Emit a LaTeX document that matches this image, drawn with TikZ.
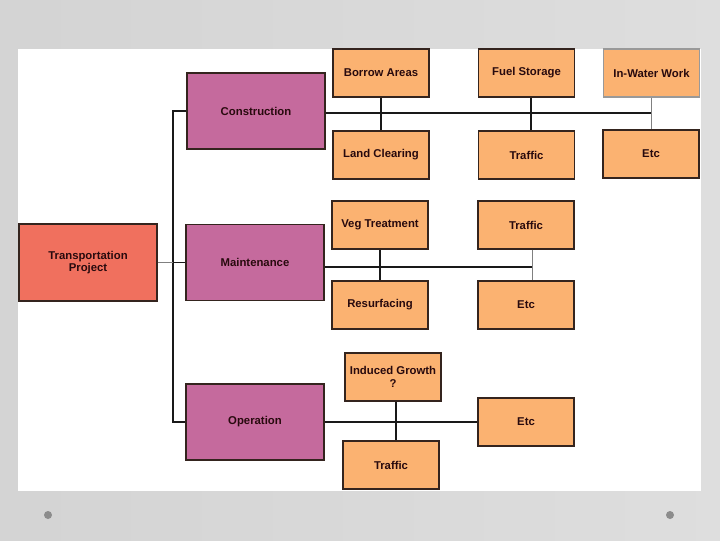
\documentclass[tikz,border=0pt]{standalone}
\usepackage{fontspec}
\setmainfont{Liberation Sans}
\usepackage{xcolor}
\usetikzlibrary{calc}

\definecolor{projred}{RGB}{240,112,94}
\definecolor{phasepurple}{RGB}{197,106,157}
\definecolor{taskorange}{RGB}{251,178,113}
\definecolor{boxline}{RGB}{52,36,30}
\definecolor{labeltext}{RGB}{40,10,14}

\begin{document}
\begin{tikzpicture}[
  x=0.75pt,y=-0.75pt,
  font=\bfseries\fontsize{8.5}{9.5}\selectfont,
  project/.style={draw=boxline,fill=projred,align=center,text=labeltext,
    minimum width=103.5pt,minimum height=57.75pt,inner sep=2pt,line width=0.9pt},
  phase/.style={draw=boxline,fill=phasepurple,align=center,text=labeltext,
    minimum width=103.5pt,minimum height=57pt,inner sep=2pt,line width=0.9pt},
  task/.style={draw=boxline,fill=taskorange,align=center,text=labeltext,
    minimum width=72pt,minimum height=36pt,inner sep=2pt,line width=0.9pt},
  link/.style={draw=black!90,line width=0.8pt},
  softlink/.style={draw=black!50,line width=0.65pt}
]
% slide background
\shade[left color=black!17,middle color=black!4,right color=black!13] (0,0) rectangle (720,540);
\fill[white] (18,49) rectangle (701,491);
\fill[black!45] (48,515) circle (4);
\fill[black!45] (670,515) circle (4);

% project and phases
\node[project] (proj) at (88,262.5) {Transportation\\Project};
\node[phase] (constr) at (256,111) {Construction};
\node[phase] (maint) at (255,262.5) {Maintenance};
\node[phase] (oper) at (255,422) {Operation};

% construction tasks
\node[task] (borrow) at (381,73) {Borrow Areas};
\node[task] (fuel) at (526.5,73) {Fuel Storage};
\node[task,draw=black!40] (inwater) at (651.5,73) {In-Water Work};
\node[task] (landclr) at (381,155) {Land Clearing};
\node[task] (trafconstr) at (526.5,155) {Traffic};
\node[task] (etcconstr) at (651,154) {Etc};

% maintenance tasks
\node[task] (veg) at (380,225) {Veg Treatment};
\node[task] (trafmaint) at (526,225) {Traffic};
\node[task] (resurf) at (380,305) {Resurfacing};
\node[task] (etcmaint) at (526,305) {Etc};

% operation tasks
\node[task] (induced) at (393,377) {Induced Growth\\?};
\node[task] (etcoper) at (526,422) {Etc};
\node[task] (trafoper) at (391,465) {Traffic};

% trunk
\coordinate (trunktop) at (173,111);
\coordinate (trunkbot) at (173,422);
\draw[link] (constr.west) -- (trunktop) -- (trunkbot) -- (oper.west);
\draw[link] (maint.west) -- (maint.west -| trunktop);
\draw[softlink] (proj.east) -- (proj.east -| trunktop);

% construction branch
\draw[link] ($(constr.east)+(0,2)$) -- ($(constr.east -| inwater.south)+(0,2)$);
\draw[link] (borrow) -- (landclr);
\draw[link] ($(fuel.south)+(4.5,0)$) -- ($(trafconstr.north)+(4.5,0)$);
\draw[softlink] (inwater.south) -- (inwater.south |- etcconstr.north);

% maintenance branch
\draw[link] ($(maint.east)+(0,4.5)$) -- ($(maint.east -| trafmaint.south)+(6,4.5)$);
\draw[link] (veg) -- (resurf);
\draw[softlink] ($(trafmaint.south)+(6,0)$) -- ($(etcmaint.north)+(6,0)$);

% operation branch
\draw[link] (oper.east) -- (etcoper.west);
\draw[link] ($(induced.south)+(3,0)$) -- ($(induced.south |- trafoper.north)+(3,0)$);
\end{tikzpicture}
\end{document}
